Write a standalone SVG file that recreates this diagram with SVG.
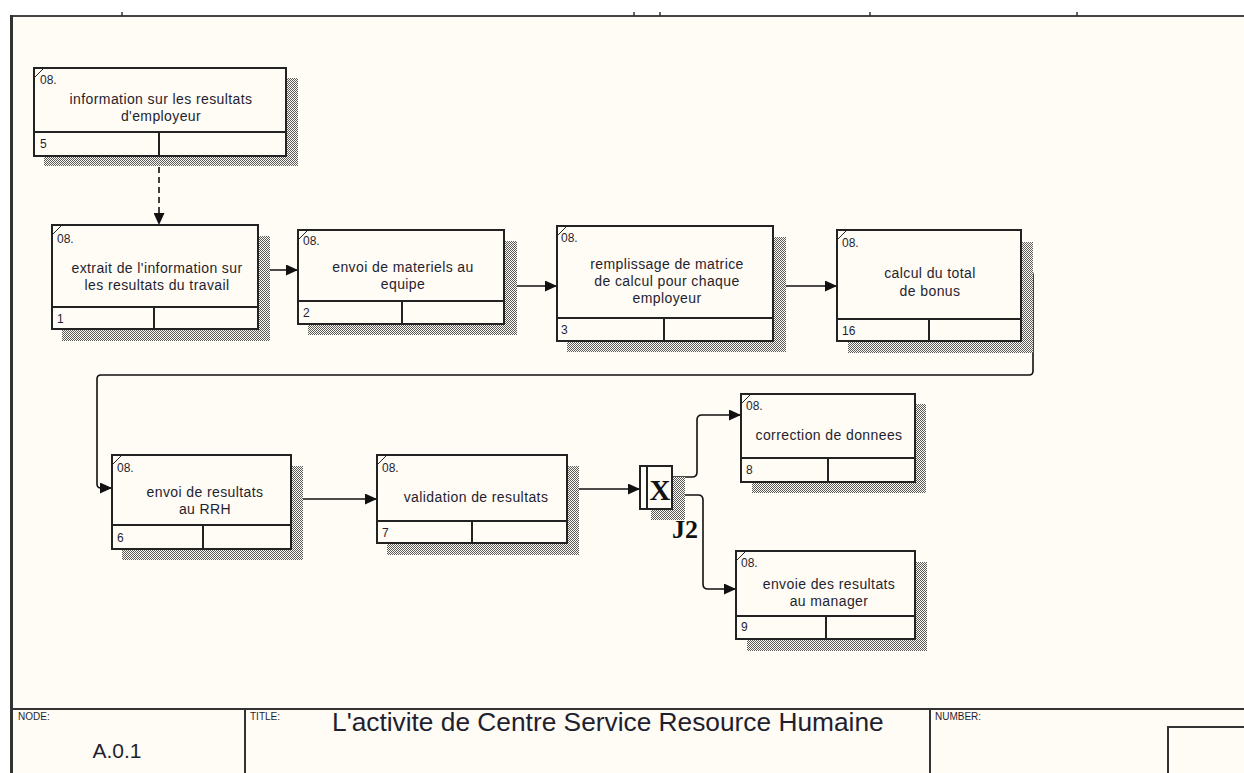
<svg xmlns="http://www.w3.org/2000/svg" width="1244" height="773" viewBox="0 0 1244 773">
<defs>
<pattern id="dither" width="2" height="2" patternUnits="userSpaceOnUse">
<rect width="2" height="2" fill="#fffbf5"/>
<rect width="1" height="1" fill="#5a5a5a"/>
<rect x="1" y="1" width="1" height="1" fill="#5a5a5a"/>
</pattern>
<marker id="ah" markerWidth="13" markerHeight="11" refX="12" refY="5.5" orient="auto" markerUnits="userSpaceOnUse">
<path d="M0,0 L12,5.5 L0,11 Z" fill="#111"/>
</marker>
<style>
.bx{fill:#fffbf5;stroke:#222;stroke-width:2}
.sh{fill:url(#dither)}
.dv{stroke:#222;stroke-width:2;fill:none}
.cr{stroke:#222;stroke-width:1;fill:none}
.cn{stroke:#111;stroke-width:1.6;fill:none}
.t{font-family:"Liberation Sans",Arial,sans-serif;font-size:14px;fill:#1f1f2f;text-anchor:middle;letter-spacing:0.4px}
.s{font-family:"Liberation Sans",Arial,sans-serif;font-size:12px;fill:#1f1f2f}
.lb{font-family:"Liberation Sans",Arial,sans-serif;font-size:10px;fill:#1f1f2f}
.jt{font-family:"Liberation Serif","Times New Roman",serif;font-weight:bold;fill:#111}
</style>
</defs>
<rect x="0" y="0" width="1244" height="773" fill="#ffffff"/>
<rect x="10" y="16" width="1234" height="757" fill="#fffbf5"/>
<g id="frame">
<line x1="10" y1="16" x2="1244" y2="16" stroke="#444" stroke-width="2"/>
<line x1="11.5" y1="15" x2="11.5" y2="773" stroke="#333" stroke-width="3"/>
<line x1="122" y1="12" x2="122" y2="16" stroke="#333" stroke-width="1.5"/>
<line x1="634" y1="12" x2="634" y2="16" stroke="#333" stroke-width="1.5"/>
<line x1="660" y1="12" x2="660" y2="16" stroke="#333" stroke-width="1.5"/>
<line x1="870" y1="12" x2="870" y2="16" stroke="#333" stroke-width="1.5"/>
<line x1="1077" y1="12" x2="1077" y2="16" stroke="#333" stroke-width="1.5"/>
</g>

<g id="connectors">
<line class="cn" x1="159" y1="157" x2="159" y2="225" stroke-dasharray="6,4" marker-end="url(#ah)"/>
<line class="cn" x1="258" y1="270" x2="298" y2="270" marker-end="url(#ah)"/>
<line class="cn" x1="504" y1="286" x2="557" y2="286" marker-end="url(#ah)"/>
<line class="cn" x1="773" y1="286" x2="837" y2="286" marker-end="url(#ah)"/>
<path class="cn" d="M1021,271 H1029 Q1033,271 1033,275 V371 Q1033,375 1029,375 H101 Q97,375 97,379 V484 Q97,488 101,488 H112" marker-end="url(#ah)"/>
<line class="cn" x1="291" y1="499" x2="377" y2="499" marker-end="url(#ah)"/>
<line class="cn" x1="567" y1="489" x2="640" y2="489" marker-end="url(#ah)"/>
<path class="cn" d="M672,477 H692 Q697,477 697,472 V420 Q697,415 702,415 H741" marker-end="url(#ah)"/>
<path class="cn" d="M672,495 H698 Q703,495 703,500 V584 Q703,589 708,589 H736" marker-end="url(#ah)"/>
</g>

<g id="node5">
<rect class="sh" x="44" y="78" width="254" height="88"/>
<rect class="bx" x="34" y="68" width="252" height="88"/>
<line class="dv" x1="34" y1="132" x2="286" y2="132"/>
<line class="dv" x1="159" y1="132" x2="159" y2="156"/>
<line class="cr" x1="34" y1="78" x2="44" y2="68"/>
<text class="s" x="40" y="84">08.</text>
<text class="t" x="161" y="104">information sur les resultats</text>
<text class="t" x="161" y="121">d'employeur</text>
<text class="s" x="40" y="148">5</text>
</g>

<g id="node1">
<rect class="sh" x="62" y="236" width="208" height="105"/>
<rect class="bx" x="52" y="225" width="206" height="104"/>
<line class="dv" x1="52" y1="307" x2="258" y2="307"/>
<line class="dv" x1="154" y1="307" x2="154" y2="329"/>
<line class="cr" x1="52" y1="235" x2="62" y2="225"/>
<text class="s" x="57" y="243">08.</text>
<text class="t" x="157" y="273">extrait de l'information sur</text>
<text class="t" x="157" y="290">les resultats du travail</text>
<text class="s" x="57" y="323">1</text>
</g>

<g id="node2">
<rect class="sh" x="308" y="241" width="209" height="94"/>
<rect class="bx" x="298" y="230" width="206" height="94"/>
<line class="dv" x1="298" y1="301" x2="504" y2="301"/>
<line class="dv" x1="402" y1="301" x2="402" y2="324"/>
<line class="cr" x1="298" y1="240" x2="308" y2="230"/>
<text class="s" x="303" y="245">08.</text>
<text class="t" x="403" y="272">envoi de materiels au</text>
<text class="t" x="403" y="289">equipe</text>
<text class="s" x="303" y="317">2</text>
</g>

<g id="node3">
<rect class="sh" x="567" y="237" width="219" height="115"/>
<rect class="bx" x="557" y="226" width="216" height="115"/>
<line class="dv" x1="557" y1="318" x2="773" y2="318"/>
<line class="dv" x1="664" y1="318" x2="664" y2="341"/>
<line class="cr" x1="557" y1="236" x2="567" y2="226"/>
<text class="s" x="561" y="242">08.</text>
<text class="t" x="667" y="269">remplissage de matrice</text>
<text class="t" x="667" y="286">de calcul pour chaque</text>
<text class="t" x="667" y="303">employeur</text>
<text class="s" x="561" y="334">3</text>
</g>

<g id="node16">
<rect class="sh" x="848" y="242" width="185" height="111"/>
<rect class="bx" x="837" y="230" width="184" height="111"/>
<line class="dv" x1="837" y1="319" x2="1021" y2="319"/>
<line class="dv" x1="929" y1="319" x2="929" y2="341"/>
<line class="cr" x1="837" y1="240" x2="847" y2="230"/>
<text class="s" x="842" y="247">08.</text>
<text class="t" x="930" y="278">calcul du total</text>
<text class="t" x="930" y="296">de bonus</text>
<text class="s" x="842" y="335">16</text>
</g>

<g id="node6">
<rect class="sh" x="122" y="466" width="181" height="94"/>
<rect class="bx" x="112" y="455" width="179" height="94"/>
<line class="dv" x1="112" y1="525" x2="291" y2="525"/>
<line class="dv" x1="203" y1="525" x2="203" y2="549"/>
<line class="cr" x1="112" y1="465" x2="122" y2="455"/>
<text class="s" x="117" y="472">08.</text>
<text class="t" x="205" y="497">envoi de resultats</text>
<text class="t" x="205" y="514">au RRH</text>
<text class="s" x="117" y="542">6</text>
</g>

<g id="node7">
<rect class="sh" x="387" y="466" width="192" height="89"/>
<rect class="bx" x="377" y="455" width="190" height="88"/>
<line class="dv" x1="377" y1="521" x2="567" y2="521"/>
<line class="dv" x1="472" y1="521" x2="472" y2="543"/>
<line class="cr" x1="377" y1="465" x2="387" y2="455"/>
<text class="s" x="382" y="472">08.</text>
<text class="t" x="476" y="502">validation de resultats</text>
<text class="s" x="382" y="537">7</text>
</g>

<g id="junctionJ2">
<rect class="sh" x="651" y="477" width="34" height="43"/>
<rect class="bx" x="640" y="466" width="32" height="43"/>
<line class="dv" x1="647" y1="466" x2="647" y2="509"/>
<text class="jt" x="660" y="500" font-size="29" text-anchor="middle">X</text>
<text class="jt" x="672" y="538" font-size="26">J2</text>
</g>

<g id="node8">
<rect class="sh" x="752" y="404" width="174" height="89"/>
<rect class="bx" x="741" y="394" width="174" height="88"/>
<line class="dv" x1="741" y1="458" x2="915" y2="458"/>
<line class="dv" x1="828" y1="458" x2="828" y2="482"/>
<line class="cr" x1="741" y1="404" x2="751" y2="394"/>
<text class="s" x="746" y="410">08.</text>
<text class="t" x="829" y="440">correction de donnees</text>
<text class="s" x="746" y="474">8</text>
</g>

<g id="node9">
<rect class="sh" x="747" y="562" width="180" height="89"/>
<rect class="bx" x="736" y="551" width="179" height="88"/>
<line class="dv" x1="736" y1="616" x2="915" y2="616"/>
<line class="dv" x1="826" y1="616" x2="826" y2="639"/>
<line class="cr" x1="736" y1="561" x2="746" y2="551"/>
<text class="s" x="741" y="567">08.</text>
<text class="t" x="829" y="589">envoie des resultats</text>
<text class="t" x="829" y="606">au manager</text>
<text class="s" x="741" y="631">9</text>
</g>

<g id="titleblock">
<line x1="10" y1="709" x2="1244" y2="709" stroke="#333" stroke-width="2"/>
<line x1="245" y1="709" x2="245" y2="773" stroke="#333" stroke-width="2"/>
<line x1="930" y1="709" x2="930" y2="773" stroke="#333" stroke-width="2"/>
<rect x="1168" y="727" width="80" height="50" fill="none" stroke="#333" stroke-width="2"/>
<text class="lb" x="18" y="720">NODE:</text>
<text class="lb" x="250" y="720">TITLE:</text>
<text class="lb" x="935" y="720">NUMBER:</text>
<text x="117" y="758" font-family="Liberation Sans, Arial, sans-serif" font-size="21" fill="#1f1f2f" text-anchor="middle">A.0.1</text>
<text x="332" y="731" font-family="Liberation Sans, Arial, sans-serif" font-size="26.3" fill="#1f1f2f">L'activite de Centre Service Resource Humaine</text>
</g>
</svg>
